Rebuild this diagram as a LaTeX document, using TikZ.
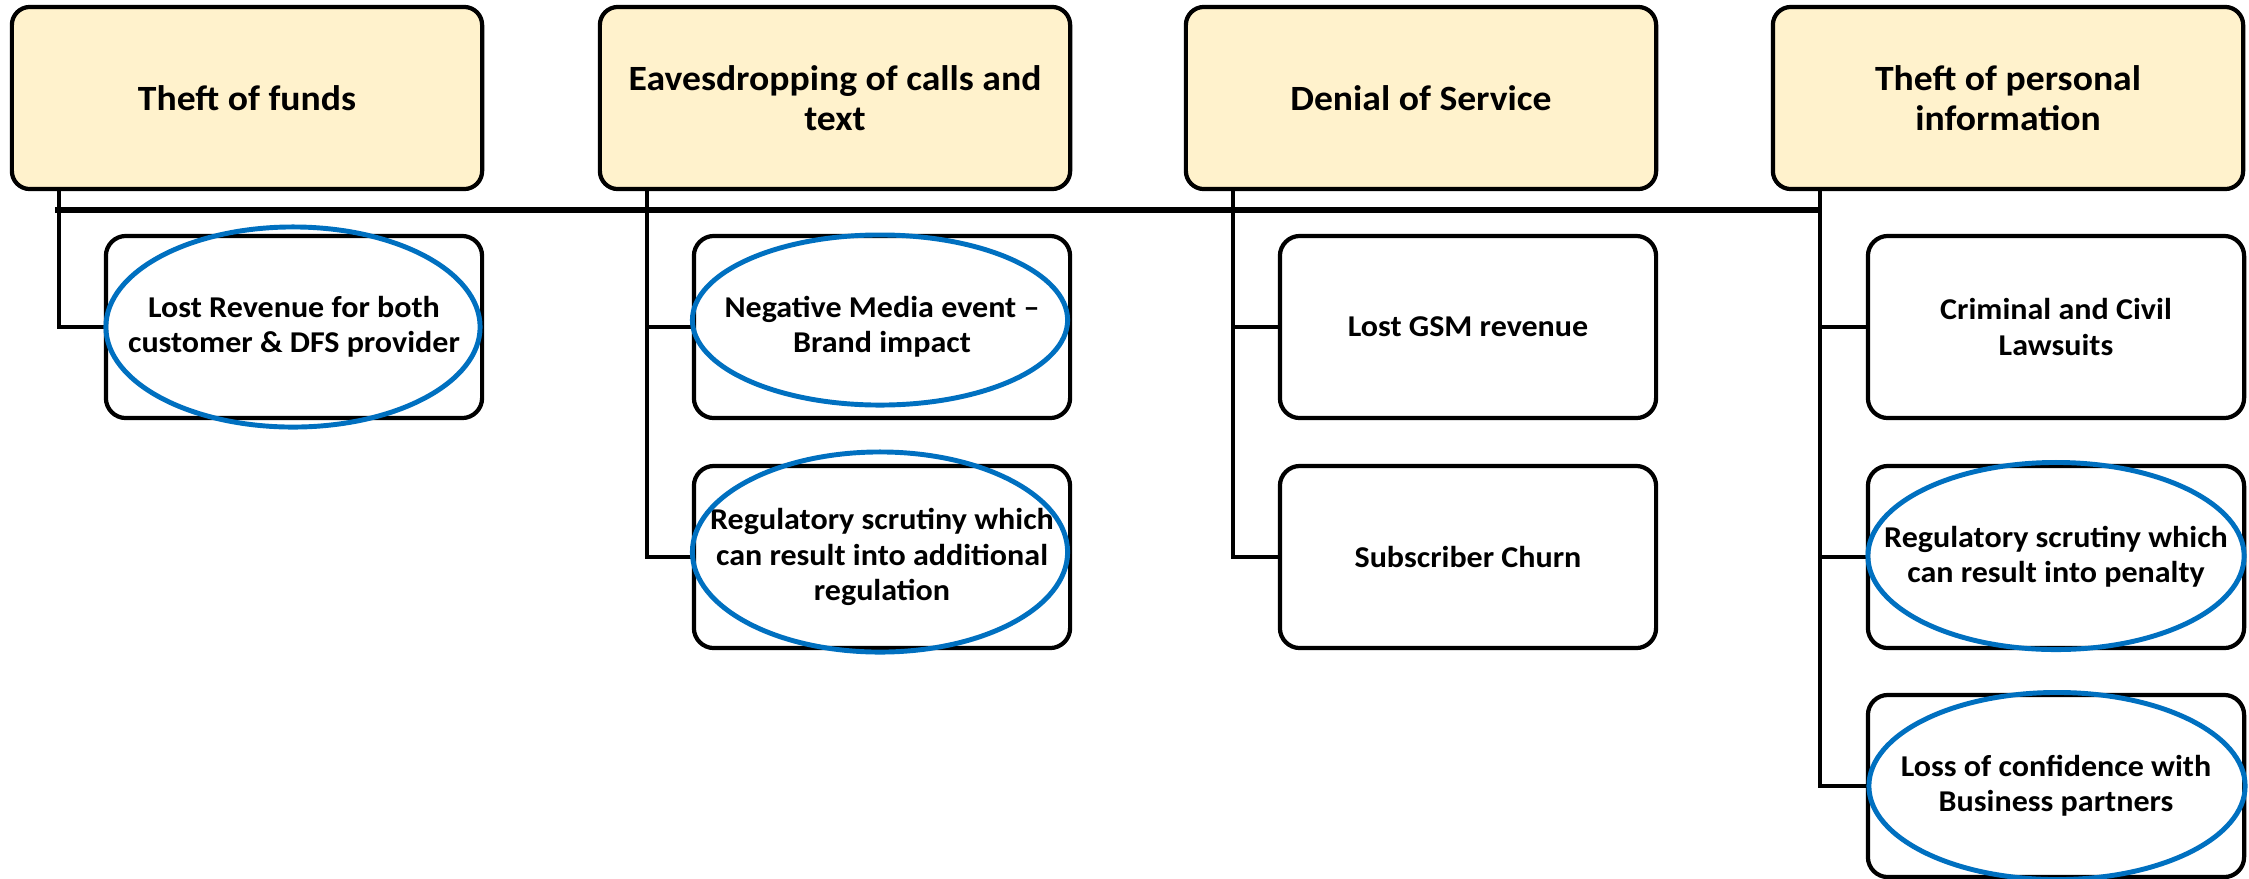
\documentclass[tikz,border=0pt]{standalone}
\usepackage{fontspec}
\setmainfont{Carlito}[FakeStretch=1.06]
\usetikzlibrary{shapes.geometric}
\definecolor{topfill}{HTML}{FFF2CC}
\definecolor{ovalblue}{HTML}{0070C0}
\begin{document}
\begin{tikzpicture}[x=0.01cm,y=-0.01cm,
 topbox/.style={draw=black, line width=1.2pt, fill=topfill, rounded corners=0.18cm, minimum width=4.7cm, minimum height=1.82cm, inner sep=0pt, align=center, font=\fontsize{10.1}{11.4}\selectfont\bfseries},
 subbox/.style={draw=black, line width=1.2pt, fill=white, rounded corners=0.2cm, minimum width=3.76cm, minimum height=1.82cm, inner sep=0pt, align=center, font=\fontsize{8.6}{10}\selectfont\bfseries},
 oval/.style={ellipse, draw=ovalblue, line width=1.4pt, inner sep=0pt},
 conn/.style={draw=black, line width=1.1pt},
 bus/.style={draw=black, line width=1.5pt}]
\useasboundingbox (0,0) rectangle (2249,878);

% top boxes
\node[topbox] (A) at (247,98) {Theft of funds};
\node[topbox] (B) at (835,98) {Eavesdropping of calls and\\text};
\node[topbox] (C) at (1421,98) {Denial of Service};
\node[topbox] (D) at (2008,98) {Theft of personal\\information};

% vertical line origins
\coordinate (vA) at (59,189);
\coordinate (vB) at (647,189);
\coordinate (vC) at (1233,189);
\coordinate (vD) at (1820,189);
\coordinate (busL) at (55,210);

% child boxes
\node[subbox] (A1) at (294,327) {Lost Revenue for both\\customer \& DFS provider};
\node[subbox] (B1) at (882,327) {Negative Media event –\\Brand impact};
\node[subbox] (B2) at (882,557) {Regulatory scrutiny which\\can result into additional\\regulation};
\node[subbox] (C1) at (1468,327) {Lost GSM revenue};
\node[subbox] (C2) at (1468,557) {Subscriber Churn};
\node[subbox] (D1) at (2056,327) {Criminal and Civil\\Lawsuits};
\node[subbox] (D2) at (2056,557) {Regulatory scrutiny which\\can result into penalty};
\node[subbox] (D3) at (2056,786) {Loss of confidence with\\Business partners};

% connectors
\draw[bus] (busL) -- (busL -| vD);
\draw[conn] (vA) |- (A1.west);
\draw[conn] (vB) |- (B2.west);
\draw[conn] (vB |- B1.west) -- (B1.west);
\draw[conn] (vC) |- (C2.west);
\draw[conn] (vC |- C1.west) -- (C1.west);
\draw[conn] (vD) |- (D3.west);
\draw[conn] (vD |- D1.west) -- (D1.west);
\draw[conn] (vD |- D2.west) -- (D2.west);

% highlight ovals
\node[oval, minimum width=3.74cm, minimum height=2.0cm] (oA1) at (293,327) {};
\node[oval, minimum width=3.75cm, minimum height=1.70cm] (oB1) at (880,320) {};
\node[oval, minimum width=3.75cm, minimum height=2.0cm] (oB2) at (880,552) {};
\node[oval, minimum width=3.76cm, minimum height=1.87cm] (oD2) at (2056,556) {};
\node[oval, minimum width=3.76cm, minimum height=1.87cm] (oD3) at (2057,786) {};
\end{tikzpicture}
\end{document}
